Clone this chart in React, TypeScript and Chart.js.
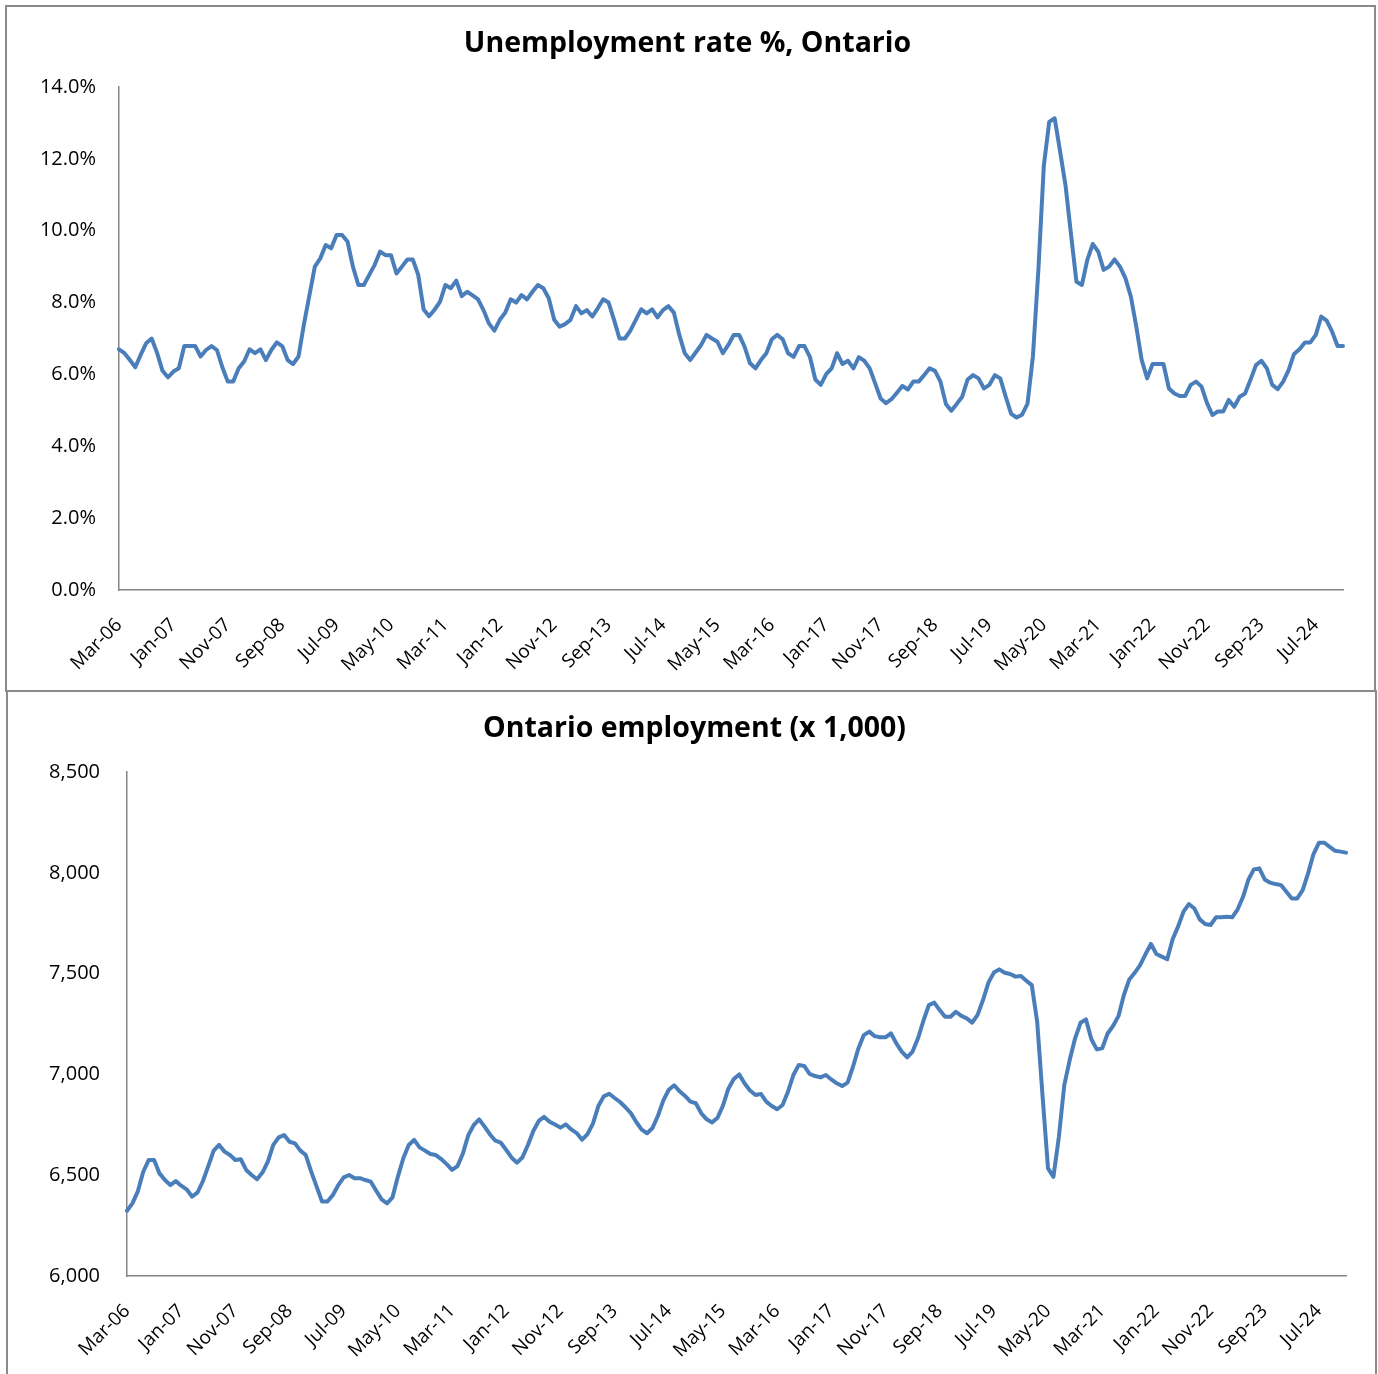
import React, { useEffect, useRef } from "react";
import { Chart, registerables } from "chart.js";

Chart.register(...registerables);

// ---- categories (monthly, Mar-06 .. Dec-24) ----
const MONTH_NAMES = ["Jan", "Feb", "Mar", "Apr", "May", "Jun", "Jul", "Aug", "Sep", "Oct", "Nov", "Dec"];
const START_YEAR = 2006;
const START_MONTH = 2; // March
const LABEL_EVERY = 10;

// ---- series: unemployment rate %, Ontario ----
const unemploymentRate = [
  6.70, 6.59, 6.40, 6.20, 6.55, 6.87, 7.00, 6.60, 6.10, 5.92,
  6.08, 6.17, 6.79, 6.79, 6.79, 6.50, 6.68, 6.79, 6.68, 6.20,
  5.80, 5.80, 6.17, 6.36, 6.70, 6.59, 6.70, 6.40, 6.68, 6.89,
  6.79, 6.40, 6.29, 6.50, 7.40, 8.20, 9.00, 9.23, 9.60, 9.51,
  9.88, 9.88, 9.70, 9.00, 8.49, 8.49, 8.77, 9.05, 9.42, 9.32,
  9.32, 8.81, 9.00, 9.20, 9.20, 8.77, 7.81, 7.62, 7.80, 8.02,
  8.49, 8.40, 8.61, 8.18, 8.30, 8.20, 8.09, 7.79, 7.42, 7.22,
  7.52, 7.72, 8.09, 8.00, 8.21, 8.09, 8.30, 8.49, 8.40, 8.12,
  7.52, 7.33, 7.40, 7.52, 7.90, 7.70, 7.79, 7.61, 7.84, 8.09,
  8.00, 7.52, 7.00, 7.00, 7.22, 7.52, 7.81, 7.70, 7.81, 7.59,
  7.79, 7.90, 7.72, 7.10, 6.59, 6.40, 6.61, 6.82, 7.10, 7.00,
  6.91, 6.59, 6.82, 7.10, 7.10, 6.77, 6.31, 6.17, 6.40, 6.59,
  6.98, 7.10, 6.98, 6.59, 6.49, 6.79, 6.79, 6.49, 5.86, 5.71,
  6.01, 6.17, 6.59, 6.29, 6.38, 6.17, 6.48, 6.38, 6.17, 5.75,
  5.33, 5.20, 5.31, 5.49, 5.68, 5.58, 5.80, 5.80, 5.98, 6.17,
  6.10, 5.80, 5.18, 4.99, 5.18, 5.38, 5.86, 5.98, 5.89, 5.61,
  5.71, 5.98, 5.89, 5.38, 4.90, 4.80, 4.88, 5.18, 6.50, 8.90,
  11.80, 13.03, 13.13, 12.20, 11.25, 9.90, 8.58, 8.49, 9.19, 9.63,
  9.42, 8.91, 9.00, 9.20, 9.00, 8.68, 8.17, 7.33, 6.40, 5.89,
  6.29, 6.29, 6.29, 5.61, 5.47, 5.40, 5.40, 5.71, 5.80, 5.66,
  5.20, 4.87, 4.97, 4.97, 5.29, 5.10, 5.38, 5.47, 5.85, 6.26,
  6.38, 6.17, 5.71, 5.59, 5.80, 6.12, 6.57, 6.70, 6.89, 6.89,
  7.10, 7.61, 7.50, 7.19, 6.79, 6.79,
];

// ---- series: Ontario employment (x 1,000) ----
const employment = [
  6324, 6360, 6420, 6517, 6575, 6575, 6509, 6476, 6451, 6471,
  6448, 6430, 6394, 6413, 6470, 6545, 6622, 6650, 6617, 6600,
  6575, 6579, 6526, 6501, 6480, 6513, 6567, 6650, 6688, 6699,
  6666, 6658, 6622, 6600, 6518, 6443, 6369, 6369, 6402, 6451,
  6489, 6501, 6485, 6485, 6476, 6468, 6423, 6380, 6360, 6390,
  6493, 6584, 6650, 6675, 6638, 6622, 6605, 6600, 6580, 6555,
  6526, 6545, 6608, 6699, 6749, 6777, 6741, 6702, 6671, 6661,
  6625, 6587, 6562, 6589, 6650, 6719, 6769, 6789, 6765, 6751,
  6736, 6752, 6727, 6709, 6676, 6704, 6756, 6843, 6891, 6904,
  6883, 6863, 6837, 6808, 6764, 6726, 6708, 6734, 6795, 6871,
  6924, 6946, 6916, 6893, 6865, 6857, 6807, 6777, 6762, 6785,
  6845, 6929, 6977, 7000, 6955, 6920, 6898, 6903, 6865, 6843,
  6827, 6848, 6914, 6997, 7047, 7042, 7002, 6992, 6985, 6997,
  6975, 6956, 6942, 6959, 7038, 7129, 7195, 7212, 7190, 7184,
  7184, 7204, 7154, 7113, 7085, 7113, 7179, 7266, 7344, 7356,
  7319, 7286, 7286, 7311, 7290, 7278, 7257, 7295, 7369, 7455,
  7505, 7521, 7504, 7498, 7485, 7488, 7465, 7443, 7261, 6890,
  6534, 6492, 6690, 6947, 7071, 7179, 7256, 7273, 7174, 7124,
  7129, 7203, 7240, 7289, 7394, 7471, 7504, 7542, 7597, 7647,
  7597, 7584, 7571, 7670, 7733, 7807, 7845, 7823, 7769, 7746,
  7741, 7779, 7779, 7782, 7779, 7819, 7881, 7967, 8017, 8022,
  7967, 7951, 7944, 7939, 7906, 7873, 7873, 7914, 7997, 8093,
  8149, 8149, 8129, 8109, 8105, 8100,
];

const categories = unemploymentRate.map((_, i) => {
  const m = START_MONTH + i;
  const yy = (START_YEAR + Math.floor(m / 12)) % 100;
  return `${MONTH_NAMES[m % 12]}-${String(yy).padStart(2, "0")}`;
});

const LINE_COLOR = "#4A7EBB";
const AXIS_COLOR = "#868686";
const FONT = '"Open Sans", "Liberation Sans", sans-serif';

type ChartProps = {
  values: number[];
  yMin: number;
  yMax: number;
  yStep: number;
  yFormat: (v: number) => string;
  leftWidth: number;
  yPadding: number;
  topPad: number;
  rightPad: number;
};

function LineChart(p: ChartProps) {
  const ref = useRef<HTMLCanvasElement | null>(null);
  useEffect(() => {
    if (!ref.current) return;
    const chart = new Chart(ref.current, {
      type: "line",
      data: {
        labels: categories,
        datasets: [
          {
            data: p.values,
            borderColor: LINE_COLOR,
            backgroundColor: LINE_COLOR,
            borderWidth: 4,
            pointRadius: 0,
            tension: 0,
            borderJoinStyle: "round",
            borderCapStyle: "round",
            fill: false,
          },
        ],
      },
      options: {
        responsive: false,
        maintainAspectRatio: false,
        animation: false,
        layout: { padding: { left: 0, right: p.rightPad, top: p.topPad, bottom: 0 } },
        plugins: {
          legend: { display: false },
          title: { display: false },
          tooltip: { enabled: false },
        },
        scales: {
          x: {
            type: "category",
            offset: false,
            grid: { display: false, drawTicks: false },
            border: { display: true, color: AXIS_COLOR, width: 1.5 },
            ticks: {
              autoSkip: false,
              minRotation: 45,
              maxRotation: 45,
              padding: 24,
              color: "#000",
              font: { family: FONT, size: 19 },
              callback: (_v: any, i: number) => (i % LABEL_EVERY === 0 ? categories[i] : ""),
            },
            afterFit: (s: any) => {
              s.height = 98;
              s.paddingLeft = 0;
              s.paddingRight = 0;
            },
          },
          y: {
            min: p.yMin,
            max: p.yMax,
            grid: { display: false, drawTicks: false },
            border: { display: true, color: AXIS_COLOR, width: 1.5 },
            ticks: {
              stepSize: p.yStep,
              padding: p.yPadding,
              color: "#000",
              font: { family: FONT, size: 20 },
              callback: (v: any) => p.yFormat(Number(v)),
            },
            afterFit: (s: any) => {
              s.width = p.leftWidth;
            },
          },
        },
      },
    } as any);
    return () => chart.destroy();
  }, []);
  return <canvas ref={ref} width={1366} height={681} style={{ width: 1366, height: 681, display: "block" }} />;
}

const boxStyle = (left: number, top: number, width: number, height: number): React.CSSProperties => ({
  position: "absolute",
  left,
  top,
  width,
  height,
  boxSizing: "border-box",
  border: "2px solid #8a8a8a",
  background: "#fff",
});

const titleStyle = (centerX: number, top: number): React.CSSProperties => ({
  position: "absolute",
  left: centerX - 500,
  top,
  width: 1000,
  textAlign: "center",
  fontFamily: FONT,
  fontWeight: 700,
  fontSize: 28.5,
  lineHeight: "32px",
  color: "#000",
  whiteSpace: "nowrap",
});

export default function App() {
  return (
    <div style={{ position: "fixed", left: 0, top: 0, width: 1378, height: 1374, overflow: "hidden", background: "#fff" }}>
      <div style={boxStyle(5, 5, 1371, 687)} />
      <div style={boxStyle(6, 690, 1371, 700)} />
      <div style={{ position: "absolute", left: 7, top: 7 }}>
        <LineChart
          values={unemploymentRate}
          yMin={0}
          yMax={14}
          yStep={2}
          yFormat={(v) => v.toFixed(1) + "%"}
          leftWidth={112}
          yPadding={23}
          topPad={80}
          rightPad={30}
        />
      </div>
      <div style={{ position: "absolute", left: 9, top: 693 }}>
        <LineChart
          values={employment}
          yMin={6000}
          yMax={8500}
          yStep={500}
          yFormat={(v) => v.toLocaleString("en-US")}
          leftWidth={118}
          yPadding={27}
          topPad={79}
          rightPad={29}
        />
      </div>
      <div style={titleStyle(687.5, 25)}>Unemployment rate %, Ontario</div>
      <div style={titleStyle(694.5, 710)}>Ontario employment (x 1,000)</div>
    </div>
  );
}
